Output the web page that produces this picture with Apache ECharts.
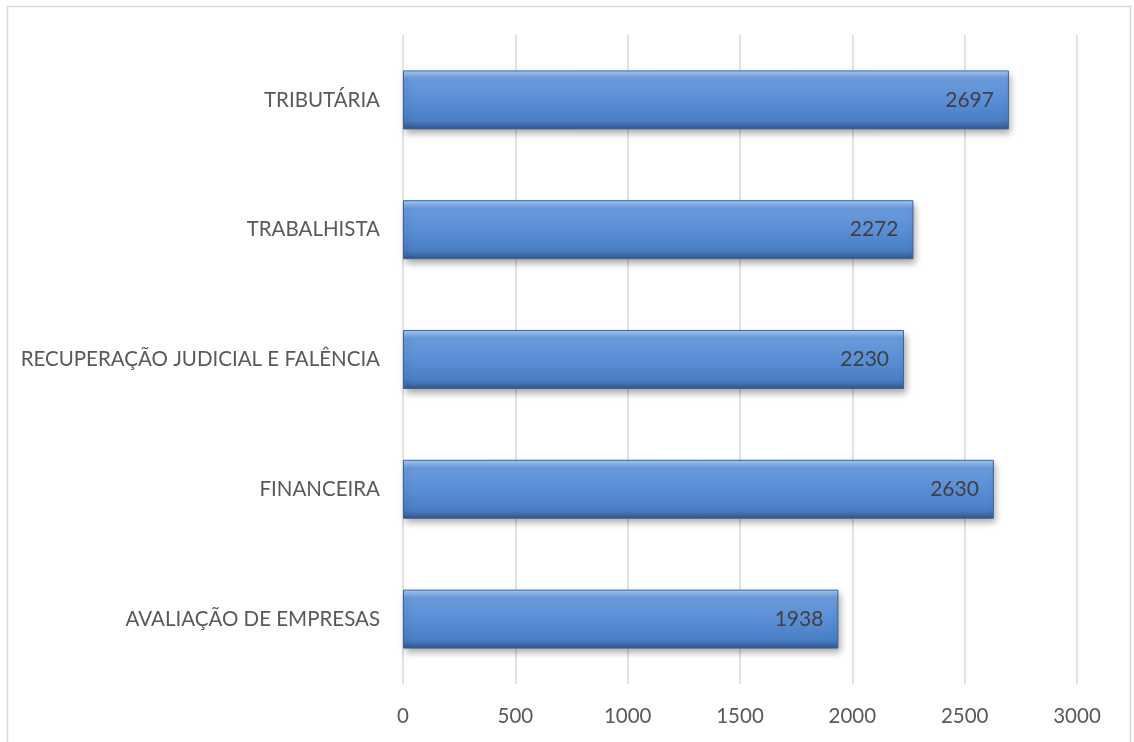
<!DOCTYPE html>
<html><head><meta charset="utf-8">
<script src="https://cdn.jsdelivr.net/npm/echarts@6/dist/echarts.min.js"></script>
<style>html,body{margin:0;padding:0;background:#fff}#c{width:1134px;height:742px}</style>
</head><body><div id="c"></div>
<script>
const categories = ['AVALIAÇÃO DE EMPRESAS','FINANCEIRA','RECUPERAÇÃO JUDICIAL E FALÊNCIA','TRABALHISTA','TRIBUTÁRIA'];
const values = [1938, 2630, 2230, 2272, 2697];
const xTicks = [0, 500, 1000, 1500, 2000, 2500, 3000];

const chart = echarts.init(document.getElementById('c'), null, {renderer:'canvas'});
const font = 'Lato, "Open Sans", sans-serif';
chart.setOption({
  animation:false,
  graphic:[{type:'rect',shape:{x:7.5,y:6.5,width:1123,height:745},style:{fill:'none',stroke:'#d9d9d9',lineWidth:1.5},silent:true}],
  grid:{left:403,right:57,top:35,bottom:58,containLabel:false},
  xAxis:{type:'value',min:xTicks[0],max:xTicks[xTicks.length-1],interval:500,
    axisLine:{show:false},axisTick:{show:false},
    splitLine:{show:true,lineStyle:{color:'#d9d9d9',width:1.5}},
    axisLabel:{color:'#595959',fontSize:20.5,fontFamily:font,margin:22,formatter:v=>String(v)}},
  yAxis:{type:'category',data:categories,
    axisLine:{show:false},axisTick:{show:false},
    axisLabel:{color:'#595959',fontSize:20.5,fontFamily:font,margin:23}},
  series:[{type:'bar',data:values,barWidth:59,
    itemStyle:{
      color:{type:'linear',x:0,y:0,x2:0,y2:1,colorStops:[
        {offset:0,color:'#a9cdf5'},{offset:0.08,color:'#86b2e8'},{offset:0.14,color:'#6a9bdc'},
        {offset:0.5,color:'#5a8ed5'},{offset:0.85,color:'#4a7ec4'},{offset:0.93,color:'#3e6ba8'},{offset:1,color:'#2f5486'}]},
      borderColor:'#3b659c',borderWidth:1,
      shadowColor:'rgba(0,0,0,0.35)',shadowBlur:7,shadowOffsetX:2,shadowOffsetY:4},
    label:{show:true,position:'insideRight',distance:15,color:'#404040',fontSize:21,fontFamily:font,formatter:p=>String(p.value)}
  }]
});
</script></body></html>
